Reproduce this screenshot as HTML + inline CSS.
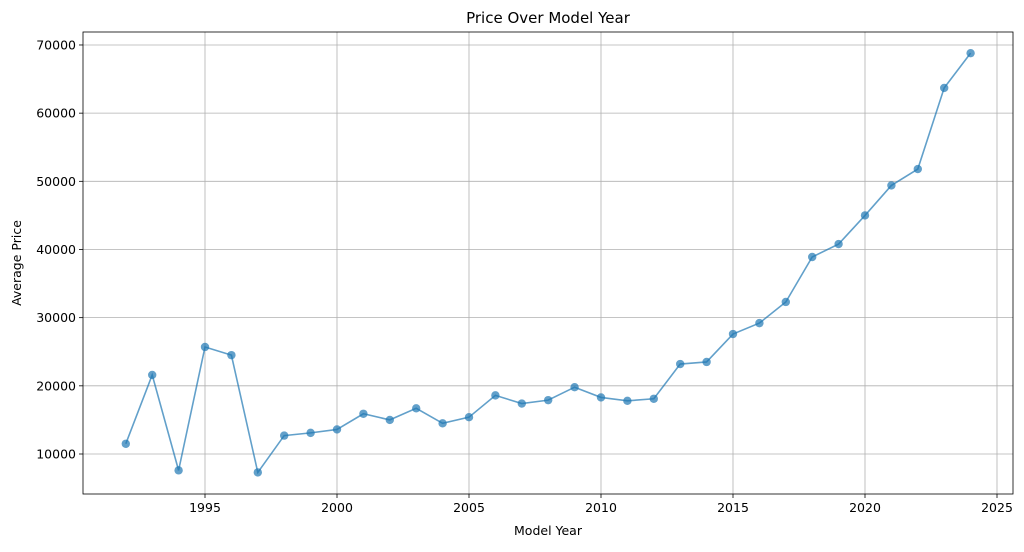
<!DOCTYPE html>
<html><head><meta charset="utf-8"><style>
body{margin:0;background:#fff;font-family:"Liberation Sans","DejaVu Sans",sans-serif;}
svg text{font-family:"DejaVu Sans","Liberation Sans",sans-serif;}
</style></head><body>
<svg id="chart" width="1024" height="547" xmlns="http://www.w3.org/2000/svg"></svg>
<script>
const years=[1992,1993,1994,1995,1996,1997,1998,1999,2000,2001,2002,2003,2004,2005,2006,2007,2008,2009,2010,2011,2012,2013,2014,2015,2016,2017,2018,2019,2020,2021,2022,2023,2024];
const prices=[11500,21600,7600,25700,24500,7300,12700,13100,13600,15900,15000,16700,14500,15400,18600,17400,17900,19800,18300,17800,18100,23200,23500,27600,29200,32300,38900,40800,45000,49400,51800,63700,68800];
const xTicks=[1995,2000,2005,2010,2015,2020,2025];
const yTicks=[10000,20000,30000,40000,50000,60000,70000];
const L=83,R=1013,T=32,B=494;
const xs=v=>205+(v-1995)*26.4;
const ys=v=>454-(v-10000)*0.006817;
const svg=document.getElementById('chart');
const NS='http://www.w3.org/2000/svg';
function mk(tag,attrs,parent){const e=document.createElementNS(NS,tag);for(const k in attrs)e.setAttribute(k,attrs[k]);(parent||svg).appendChild(e);return e;}
const grid=mk('g',{});


xTicks.forEach(t=>{const x=xs(t);
mk('line',{x1:x,x2:x,y1:T,y2:B,stroke:'#b0b0b0','stroke-width':0.8},grid);
mk('line',{x1:x,x2:x,y1:B,y2:B+4,stroke:'#000','stroke-width':0.8});
const tx=mk('text',{x:x,y:B+18,'text-anchor':'middle','font-size':12.5});tx.textContent=t;

});
yTicks.forEach(t=>{const y=ys(t);
mk('line',{x1:L,x2:R,y1:y,y2:y,stroke:'#b0b0b0','stroke-width':0.8},grid);
mk('line',{x1:L-4,x2:L,y1:y,y2:y,stroke:'#000','stroke-width':0.8});
const tx=mk('text',{x:L-7,y:y+4.5,'text-anchor':'end','font-size':12.5});tx.textContent=t;

});
const frame=mk('rect',{x:L,y:T,width:R-L,height:B-T,fill:'none',stroke:'#000','stroke-width':0.8});


const line=mk('polyline',{points:years.map((y,i)=>xs(y)+','+ys(prices[i])).join(' '),fill:'none',stroke:'#1f77b4','stroke-width':1.6,'stroke-opacity':0.7});


years.forEach((y,i)=>{const c=mk('circle',{cx:xs(y),cy:ys(prices[i]),r:4.2,fill:'#1f77b4','fill-opacity':0.7});

});
const title=mk('text',{x:(L+R)/2,y:23,'text-anchor':'middle','font-size':15});title.textContent='Price Over Model Year';


const xl=mk('text',{x:(L+R)/2,y:535,'text-anchor':'middle','font-size':12.5});xl.textContent='Model Year';


const yl=mk('text',{x:21,y:(T+B)/2,'text-anchor':'middle','font-size':12.5,transform:'rotate(-90 21 '+(T+B)/2+')'});yl.textContent='Average Price';


</script>
</body></html>
